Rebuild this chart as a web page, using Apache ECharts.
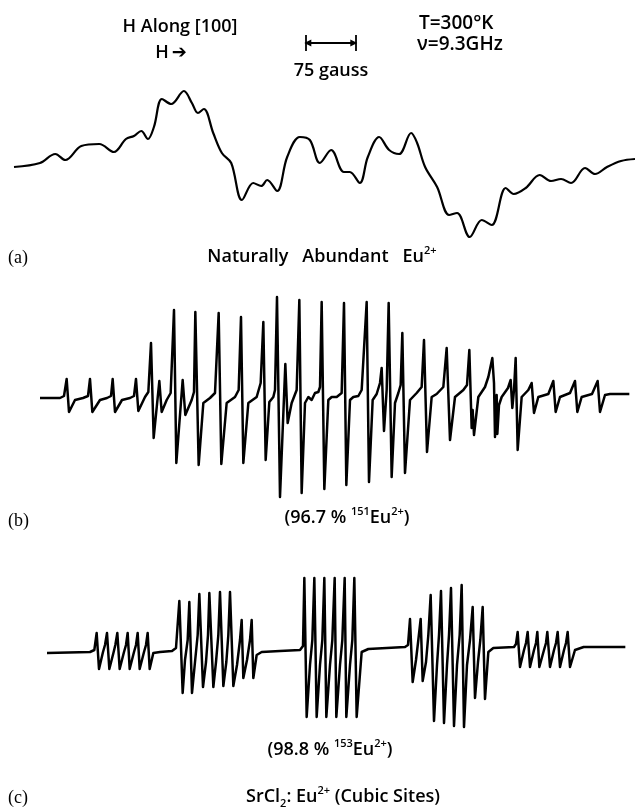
<!DOCTYPE html>
<html><head><meta charset="utf-8">
<script src="https://cdn.jsdelivr.net/npm/echarts@6/dist/echarts.min.js"></script>
<style>html,body{margin:0;padding:0;background:#fff}#c{width:635px;height:809px}</style>
</head><body><div id="c"></div>
<script>
// (a) naturally abundant Eu2+ : [field offset (G), derivative amplitude (a.u.)]
const traceA = [[0,-2],[39,2],[62,11],[77,5],[101,19],[128,21],[150,13],[168,26],[180,29],[191,34],[201,26],[210,38],[222,66],[236,61],[255,74],[267,62],[276,52],[285,56],[299,32],[312,12],[326,2],[342,-35],[359,-18],[371,-21],[380,-15],[395,-26],[410,8],[429,28],[444,25],[459,2],[476,15],[495,-7],[504,-7],[519,-18],[531,8],[548,28],[563,15],[578,11],[596,32],[605,22],[617,-2],[635,-22],[653,-50],[665,-48],[684,-72],[702,-55],[717,-60],[738,-23],[750,-29],[768,-23],[789,-10],[806,-16],[821,-14],[836,-18],[857,-3],[872,-9],[890,-2],[911,4],[932,6]];

// (b) 96.7% 151Eu2+
const traceB = [[0,0],[30,0],[36,2],[40,19],[43.5,-14],[52.5,-2],[64.5,0],
[72,2],[75,19],[78.5,-14],[90,-2],[100.5,0],
[106.5,2],[109,19],[112.5,-14],[123,-2],[135,0],
[141,2],[144,19],[147.5,-13],[157.5,1],[162.5,6],
[166.5,55],[170.5,-40],[179,17],[182.5,-14],[190,-2],[196,5],
[201,88],[204.5,-65],[214,18],[218,-17],[227.5,-2],[231,6],
[233,86],[238,-67],[245,-5],[255,0],[262.5,5],
[268,85],[272,-66],[280,-5],[292.5,1],[298,8],
[301.5,81],[305,-65],[312.5,-5],[325,1],[331,15],
[335,76],[338.5,-62],[344,-4],[350,1],[352.5,8],
[355.5,101],[360,-99],[368,34],[371.5,-25],[377.5,-5],[385,8],
[389,98],[392.5,-95],[397.5,-5],[402.5,1],[407.5,-2],[412.5,5],[417.5,6],[420,11],
[422.5,96],[426.5,-91],[432.5,-2],[437.5,1],[445,1],[452.5,5],
[456,95],[459.5,-87],[465,-2],[470,1],[477.5,2],[482.5,8],
[490,96],[493.5,-84],[499,-2],[505,4],[510,15],[512.5,30],[516,-33],[520,8],
[523,95],[527.5,-79],[532.5,-5],[537.5,5],[541,13],
[543.5,65],[547.5,-75],[555,-2],[565,5],[572.5,11],
[576,58],[580.5,-54],[587.5,1],[595,4],[605,11],
[610,50],[615,-42],[622.5,1],[635,8],[640.5,13],
[644,48],[647.5,-30],[649,-12],[651,-37],[657.5,1],[667.5,11],[672.5,21],
[678.5,40],[681,15],[682.5,-39],[685,3],[686,-36],[688.5,-7],[692.5,1],[702,10],
[706,18],[708.5,-10],[711,8],
[713.5,40],[716.5,-52],[722.5,1],[732.5,8],
[737.5,15],[741,-15],[747.5,1],[762.5,4],
[770,17],[773.5,-14],[780,1],[795,5],
[802.5,17],[806,-14],[812.5,1],[828,4],
[836.5,17],[840,-14],[847.5,3],[855,4],[884,4]];

// (c) 98.8% 153Eu2+ , SrCl2:Eu2+ cubic sites
const traceC = [[0,-3],[64.5,-2],[71,0],
[74.5,17],[78,-19],[84,-2],[87,5],
[90,17],[93.5,-19],[100,-2],[102.5,5],
[105.5,17],[109,-19],[115.5,-2],[118.5,5],
[121,17],[124,-19],[130.5,-2],[133.5,5],
[136,17],[139,-19],[145.5,-2],[148.5,5],
[151,17],[154,-19],[159.5,-3],[169.5,-2],[187.5,-1],[193.5,2],
[198.5,49],[203.5,-43],[207,-10],[211,10],
[213.5,48],[217.5,-43],[222,-12],[226,15],
[228.5,56],[234,-37],[238.5,-12],[241.5,15],
[243.5,57],[249.5,-37],[253.5,-12],[257,15],
[259.5,58],[264.5,-36],[269,-12],[272,15],
[274.5,58],[279.5,-36],[285,-15],[289.5,10],
[292,30],[294.5,-28],[300,-10],[304.5,10],
[307,30],[309.5,-28],[314.5,-5],[322,-2],[349.5,-1],[379.5,0],[384,4],
[386,72],[389.5,-67],[394.5,-15],[398,10],
[401,72],[404.5,-67],[409.5,-15],[413,10],
[416,72],[419,-67],[424.5,-15],[428,10],
[431.5,72],[434,-67],[439.5,-15],[443,10],
[446.5,72],[449,-67],[454.5,-15],[458,10],
[461,72],[464.5,-67],[472,-2],[482,1],[537,3],[541.5,5],
[544.5,31],[548.5,-32],[553.5,-10],[557,10],
[560.5,31],[563.5,-31],[568.5,-12],[572,15],
[575.5,55],[580.5,-71],[585,-15],[588,15],
[591,59],[595.5,-73],[600,-15],[603,15],
[606,62],[610.5,-76],[615,-15],[619,15],
[622,65],[625.5,-77],[630,-15],[634.5,10],
[638.5,43],[642,-48],[646.5,-12],[650,10],
[653.5,43],[657,-49],[662,-2],[669.5,2],[700.5,3],[703.5,6],
[706,18],[709.5,-17],[715.5,0],[718.5,7],
[721,18],[724.5,-17],[730.5,0],[733.5,7],
[735.5,18],[738.5,-17],[745.5,0],[748.5,7],
[750.5,18],[754.5,-17],[760.5,0],[763.5,7],
[766,18],[769.5,-17],[775.5,0],[778.5,7],
[781,18],[784.5,-17],[792,0],[805,3],[867.5,3]];

// scale bar (gauss) drawn in panel (a) field units
const scaleBarStart = 438;
const scaleBarLength = 75;
const scaleBarLevel = 122;

const panelLabels = ['(a)', '(b)', '(c)'];

const chart = echarts.init(document.getElementById('c'), null, {renderer: 'canvas'});
const SANS = "'Open Sans', 'DejaVu Sans', sans-serif";
const SERIF = "'Liberation Serif', 'DejaVu Serif', serif";
const ink = '#000';

const hiddenAxis = (min, max, gi) => ({type: 'value', min, max, gridIndex: gi, show: false});

const main = {fontFamily: SANS, fontSize: 18, fontWeight: 600, fill: ink, lineHeight: 24, verticalAlign: 'middle'};
const sup = {fontFamily: SANS, fontSize: 11, fontWeight: 600, fill: ink, lineHeight: 24, verticalAlign: 'top'};
const sub = {fontFamily: SANS, fontSize: 11, fontWeight: 600, fill: ink, lineHeight: 24, verticalAlign: 'bottom'};

function txt(x, y, text, align, font) {
  return {type: 'text', x, y, style: {text, fill: ink, font: font || ("600 18px " + SANS), textAlign: align || 'center', textVerticalAlign: 'middle'}};
}
function rich(x, y, text, align) {
  return {type: 'text', x, y, style: {text, textAlign: align || 'center', textVerticalAlign: 'middle', rich: {m: main, s: sup, b: sub}}};
}

chart.setOption({
  animation: false,
  backgroundColor: '#fff',
  grid: [
    {left: 14, top: 25, width: 621, height: 230},
    {left: 40, top: 288, width: 590, height: 220},
    {left: 47, top: 570, width: 578, height: 160}
  ],
  xAxis: [hiddenAxis(0, 932, 0), hiddenAxis(0, 885, 1), hiddenAxis(0, 867, 2)],
  yAxis: [hiddenAxis(-90, 140, 0), hiddenAxis(-110, 110, 1), hiddenAxis(-80, 80, 2)],
  series: [
    {type: 'line', xAxisIndex: 0, yAxisIndex: 0, data: traceA, showSymbol: false, smooth: 0.35,
     lineStyle: {color: ink, width: 2.2}},
    {type: 'line', xAxisIndex: 1, yAxisIndex: 1, data: traceB, showSymbol: false, smooth: false,
     lineStyle: {color: ink, width: 2.5, join: 'round'}},
    {type: 'line', xAxisIndex: 2, yAxisIndex: 2, data: traceC, showSymbol: false, smooth: false,
     lineStyle: {color: ink, width: 2.5, join: 'round'}},
    // scale bar
    {type: 'line', xAxisIndex: 0, yAxisIndex: 0, showSymbol: false, silent: true,
     data: [[scaleBarStart, scaleBarLevel], [scaleBarStart + scaleBarLength, scaleBarLevel]],
     lineStyle: {color: ink, width: 2.2},
     markLine: {silent: true, symbol: ['none', 'none'], label: {show: false},
       lineStyle: {color: ink, width: 1.8, type: 'solid'},
       data: [
         [{coord: [scaleBarStart, scaleBarLevel - 8]}, {coord: [scaleBarStart, scaleBarLevel + 8]}],
         [{coord: [scaleBarStart + scaleBarLength, scaleBarLevel - 8]}, {coord: [scaleBarStart + scaleBarLength, scaleBarLevel + 8]}],
         [{coord: [scaleBarStart + 30, scaleBarLevel], symbol: 'none'}, {coord: [scaleBarStart + 3, scaleBarLevel], symbol: 'triangle', symbolSize: [7, 7], symbolRotate: 90}],
         [{coord: [scaleBarStart + 45, scaleBarLevel]}, {coord: [scaleBarStart + scaleBarLength - 3, scaleBarLevel], symbol: 'triangle', symbolSize: [7, 7], symbolRotate: -90}]
       ]}}
  ],
  graphic: [
    txt(180, 27, 'H Along [100]'),
    txt(171, 53, 'H\u2009\u2794'),
    txt(331, 71, '75 gauss'),
    txt(419, 24, 'T=300\u00b0K', 'left', "600 19px " + SANS),
    txt(417, 45, '\u03bd=9.3GHz', 'left', "600 19px " + SANS),
    txt(8, 258, panelLabels[0], 'left', "18px " + SERIF),
    rich(322, 257, '{m|Naturally   Abundant   Eu}{s|2+}'),
    txt(8, 521, panelLabels[1], 'left', "18px " + SERIF),
    rich(347, 518, '{m|(96.7 % }{s|151}{m|Eu}{s|2+}{m|)}'),
    rich(330, 750, '{m|(98.8 % }{s|153}{m|Eu}{s|2+}{m|)}'),
    txt(8, 798, panelLabels[2], 'left', "18px " + SERIF),
    rich(343, 797, '{m|SrCl}{b|2}{m|: Eu}{s|2+}{m| (Cubic Sites)}')
  ]
});
</script></body></html>
